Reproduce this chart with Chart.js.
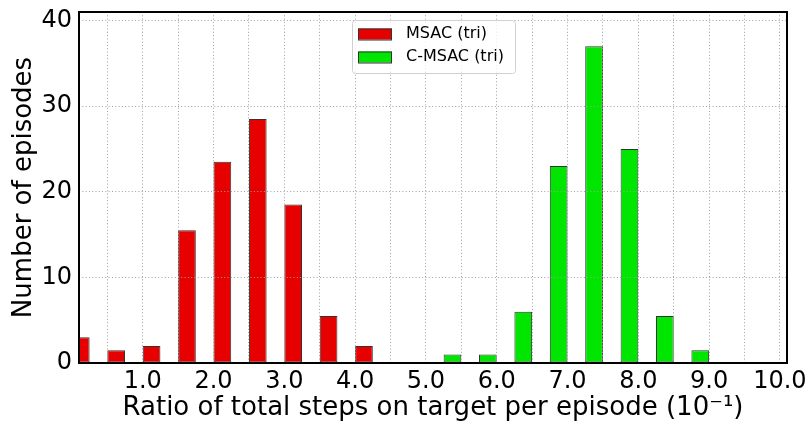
<!DOCTYPE html>
<html>
<head>
<meta charset="utf-8">
<script src="https://cdn.jsdelivr.net/npm/chart.js@4.4.0/dist/chart.umd.min.js"></script>
<style>
  body { margin: 0; background: #fff; }
</style>
</head>
<body>
<canvas id="histChart" width="810" height="427"></canvas>
<script>
// left edge of each 0.5 wide bin (units of 10^-1) and the episode counts
const msacBins = [0.0, 0.5, 1.0, 1.5, 2.0, 2.5, 3.0, 3.5, 4.0];
const msacCounts = [3, 1.5, 2, 15.5, 23.5, 28.5, 18.5, 5.5, 2];
const cmsacBins = [5.0, 5.5, 6.0, 6.5, 7.0, 7.5, 8.0, 8.5];
const cmsacCounts = [1, 1, 6, 23, 37, 25, 5.5, 1.5];

// grid positions on x, only whole numbers get a label
const xTicks = [0.5, 1.0, 1.5, 2.0, 2.5, 3.0, 3.5, 4.0, 4.5, 5.0,
                5.5, 6.0, 6.5, 7.0, 7.5, 8.0, 8.5, 9.0, 9.5, 10.0];
const yTicks = [0, 10, 20, 30, 40];

const FONT = "'DejaVu Sans', sans-serif";
const RED = 'rgb(230, 0, 0)';
const GREEN = 'rgb(0, 230, 0)';

// red sits in the left half of a bin, green in the right half
const msacPoints = msacBins.map((b, i) => ({ x: b + 0.125, y: msacCounts[i] }));
const cmsacPoints = cmsacBins.map((b, i) => ({ x: b + 0.375, y: cmsacCounts[i] }));

// black box round the plot
const frame = {
  id: 'frame',
  afterDraw(chart) {
    const { ctx, chartArea: a } = chart;
    ctx.save();
    ctx.strokeStyle = '#000';
    ctx.lineWidth = 2;
    ctx.strokeRect(a.left, a.top, a.right - a.left, a.bottom - a.top);
    ctx.restore();
  }
};

// matplotlib style legend inside the axes
const boxLegend = {
  id: 'boxLegend',
  afterDraw(chart) {
    const ctx = chart.ctx;
    const x = 352, y = 20, w = 163, h = 53;
    ctx.save();
    ctx.fillStyle = 'rgba(255,255,255,0.8)';
    ctx.strokeStyle = '#d0d0d0';
    ctx.lineWidth = 1;
    ctx.beginPath();
    ctx.roundRect(x + 0.5, y + 0.5, w, h, 3);
    ctx.fill();
    ctx.stroke();
    ctx.font = '16px ' + FONT;
    ctx.textBaseline = 'middle';
    chart.data.datasets.forEach((ds, i) => {
      const cy = 34 + i * 23;
      ctx.fillStyle = ds.backgroundColor;
      ctx.fillRect(358, cy - 5.5, 34, 11);
      ctx.strokeStyle = '#333';
      ctx.strokeRect(358.5, cy - 5, 33, 11);
      ctx.fillStyle = '#000';
      ctx.fillText(ds.label, 406, cy);
    });
    ctx.restore();
  }
};

const gridStyle = { color: '#a0a0a0', lineWidth: 1, drawTicks: false, z: 1 };

new Chart(document.getElementById('histChart'), {
  type: 'bar',
  data: {
    datasets: [
      {
        label: 'MSAC (tri)',
        data: msacPoints,
        backgroundColor: RED,
        borderColor: '#333',
        borderWidth: 1,
        borderSkipped: false
      },
      {
        label: 'C-MSAC (tri)',
        data: cmsacPoints,
        backgroundColor: GREEN,
        borderColor: '#333',
        borderWidth: 1,
        borderSkipped: false
      }
    ]
  },
  options: {
    responsive: false,
    animation: false,
    grouped: false,
    barPercentage: 0.5,
    categoryPercentage: 1,
    layout: { padding: { left: 0, right: 23, top: 12, bottom: 0 } },
    plugins: {
      legend: { display: false },
      tooltip: { enabled: false }
    },
    scales: {
      x: {
        type: 'linear',
        min: 0.1,
        max: 10.1,
        offset: false,
        afterBuildTicks: s => { s.ticks = xTicks.map(v => ({ value: v })); },
        afterFit: s => { s.height = 64; s.paddingLeft = 0; s.paddingRight = 0; },
        grid: { ...gridStyle, offset: false },
        border: { display: false, dash: [1, 2.3] },
        ticks: {
          autoSkip: false,
          maxRotation: 0,
          padding: 4,
          color: '#000',
          font: { family: FONT, size: 24 },
          callback: v => (v % 1 === 0 ? v.toFixed(1) : '')
        },
        title: {
          display: true,
          text: 'Ratio of total steps on target per episode (10\u207B\u00B9)',
          color: '#000',
          font: { family: FONT, size: 26 },
          padding: { top: 0, bottom: 3 }
        }
      },
      y: {
        min: 0,
        max: 41,
        afterBuildTicks: s => { s.ticks = yTicks.map(v => ({ value: v })); },
        afterFit: s => { s.width = 79; s.paddingTop = 0; s.paddingBottom = 0; },
        grid: gridStyle,
        border: { display: false, dash: [1, 2.3] },
        ticks: {
          padding: 7,
          color: '#000',
          font: { family: FONT, size: 24 }
        },
        title: {
          display: true,
          text: 'Number of episodes',
          color: '#000',
          font: { family: FONT, size: 26 },
          padding: { top: 9, bottom: 0 }
        }
      }
    }
  },
  plugins: [frame, boxLegend]
});
</script>
</body>
</html>
